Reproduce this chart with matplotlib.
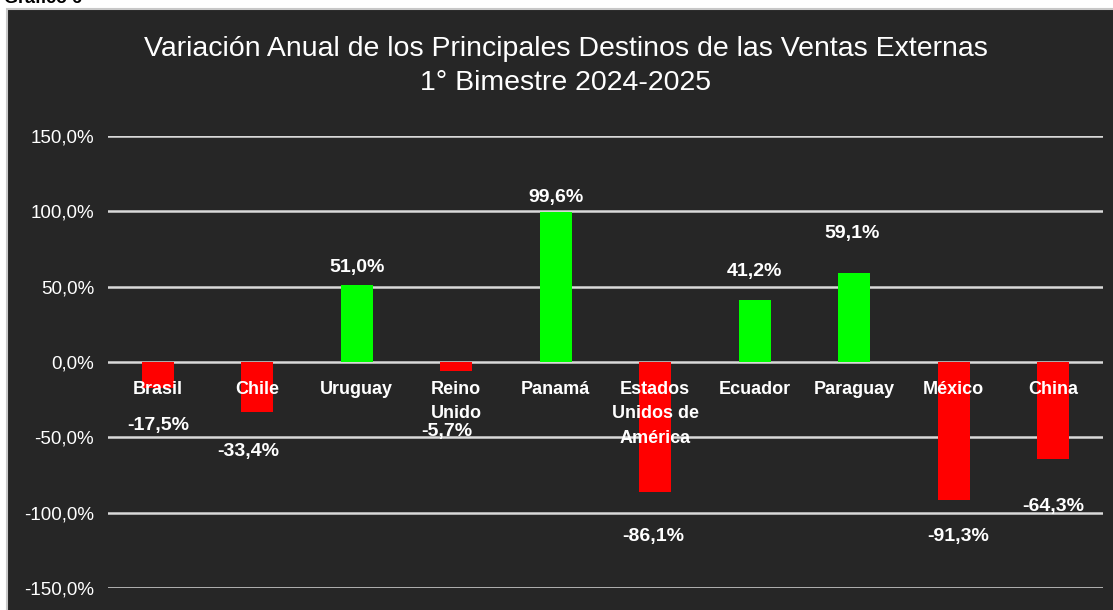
import numpy as np
import matplotlib.pyplot as plt
from matplotlib.patches import Rectangle
from matplotlib.ticker import FuncFormatter

plt.rcParams['font.family'] = ['Liberation Sans', 'DejaVu Sans']

# datos del gráfico
paises = ['Brasil', 'Chile', 'Uruguay', 'Reino\nUnido', 'Panamá',
          'Estados\nUnidos de\nAmérica', 'Ecuador', 'Paraguay', 'México', 'China']
variacion = [-17.5, -33.4, 51.0, -5.7, 99.6, -86.1, 41.2, 59.1, -91.3, -64.3]
ticks_y = [-150, -100, -50, 0, 50, 100, 150]

# posición vertical de las etiquetas de valor (como en el original)
pos_etiqueta = [-42.2, -59.1, 62.4, -45.8, 108.9, -115.5, 59.8, 85.0, -115.5, -95.6]
desp_x = [0, -0.09, 0, -0.09, 0, -0.02, 0, -0.02, 0.04, 0]

fondo = '#262626'
fig = plt.figure(figsize=(11.13, 6.10), dpi=100)
fig.patch.set_facecolor('white')

# panel oscuro con borde
fig.patches.append(Rectangle((7 / 1113, -0.01), 1.1, (610 - 9) / 610 + 0.01,
                             transform=fig.transFigure, facecolor=fondo,
                             edgecolor='#c8c8c8', linewidth=1.5, zorder=-5))
fig.text(0.004, 0.995, 'Gráfico 6', fontsize=13, fontweight='bold',
         color='black', va='baseline', ha='left')

ax = fig.add_axes([108 / 1113, 1 - 588 / 610, 995 / 1113, (588 - 136) / 610])
ax.set_facecolor('none')

x = np.arange(len(paises))
colores = ['#00ff00' if v > 0 else '#ff0000' for v in variacion]
ax.bar(x, variacion, width=0.32, color=colores, zorder=3)

ax.set_xlim(-0.5, len(paises) - 0.5)
ax.set_ylim(-150, 150)
ax.set_yticks(ticks_y)
ax.yaxis.set_major_formatter(FuncFormatter(lambda v, p: f'{v:.1f}%'.replace('.', ',')))
ax.tick_params(axis='y', length=0, pad=10, labelsize=13.5, labelcolor='white')
ax.set_xticks([])
ax.grid(axis='y', color='#d9d9d9', linewidth=1.8, zorder=1)
for s in ax.spines.values():
    s.set_visible(False)

# nombres de países sobre el eje cero
for i, nombre in enumerate(paises):
    ax.text(i, -12.8, nombre, ha='center', va='top', color='white',
            fontsize=13, fontweight='bold', linespacing=1.55, zorder=5)

# etiquetas de valor
for i, v in enumerate(variacion):
    ax.text(i + desp_x[i], pos_etiqueta[i], f'{v:.1f}%'.replace('.', ','),
            ha='center', va='center', color='white', fontsize=14,
            fontweight='bold', zorder=5)

fig.text(566 / 1113, 1 - 66 / 610,
         'Variación Anual de los Principales Destinos de las Ventas Externas\n1° Bimestre 2024-2025',
         ha='center', va='center', color='white', fontsize=20.5, linespacing=1.4)

fig.savefig('out.png', dpi=100, facecolor=fig.get_facecolor())
